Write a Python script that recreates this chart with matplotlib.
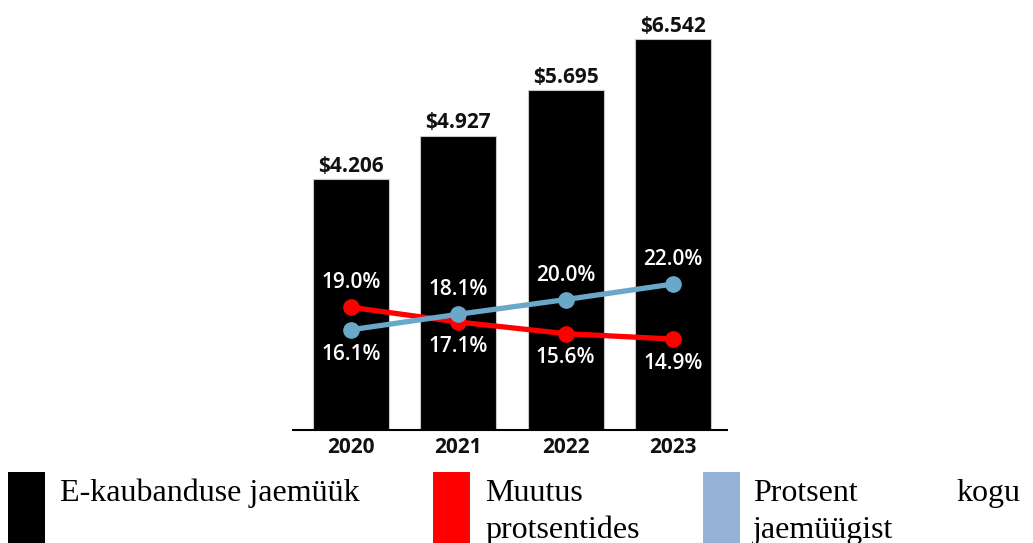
import matplotlib
matplotlib.use("Agg")
import matplotlib.pyplot as plt
from matplotlib.patches import Rectangle

years = ["2020", "2021", "2022", "2023"]
sales = [4.206, 4.927, 5.695, 6.542]
sales_labels = ["$4.206", "$4.927", "$5.695", "$6.542"]
change_pct = [19.0, 17.1, 15.6, 14.9]
share_pct = [16.1, 18.1, 20.0, 22.0]
legend_bar = "E-kaubanduse jaemüük"
legend_change = ["Muutus", "protsentides"]
legend_share = ["Protsent", "kogu", "jaemüügist"]

RED = "#FF0000"
BLUE = "#6AA8C9"
BLUE_LEG = "#95B3D7"

W, H = 1033, 543
fig = plt.figure(figsize=(W / 100, H / 100), dpi=100)

def fx(px):
    return px / W

def fy(py):
    return 1 - py / H

ax = fig.add_axes([fx(293), fy(430), fx(727) - fx(293), fy(5) - fy(430)])
x = list(range(len(years)))
ax.bar(x, sales, width=0.707, color="black", edgecolor="#c8c8c8", linewidth=0.8, zorder=2)
ax.set_xlim(-0.54, 3.503)
ax.set_ylim(0, (430 - 5) / 59.76)
for s in ["top", "right", "left"]:
    ax.spines[s].set_visible(False)
ax.spines["bottom"].set_linewidth(1.5)
ax.set_yticks([])
ax.set_xticks(x)
ax.set_xticklabels(years, fontfamily="Open Sans", fontweight="bold", fontsize=15, color="#111111")
ax.tick_params(axis="x", length=0, pad=5)
for xi, v, lab in zip(x, sales, sales_labels):
    ax.annotate(lab, (xi, v), xytext=(0, 1.5), textcoords="offset points",
                ha="center", va="bottom", fontfamily="Open Sans", fontweight="bold",
                fontsize=15, color="#111111")

ax2 = ax.twinx()
ax2.set_ylim(3.167, 58.01)
ax2.set_yticks([])
for s in ["top", "right", "left", "bottom"]:
    ax2.spines[s].set_visible(False)
ax2.plot(x, change_pct, color=RED, lw=3.8, marker="o", ms=11, zorder=3)
ax2.plot(x, share_pct, color=BLUE, lw=3.8, marker="o", ms=11, zorder=4)
for xi, c, s in zip(x, change_pct, share_pct):
    hi, lo = (c, s) if c > s else (s, c)
    ax2.annotate(f"{hi:.1f}%", (xi, hi), xytext=(0, 17.5), textcoords="offset points",
                 ha="center", va="center", fontfamily="Open Sans", fontweight="semibold",
                 fontsize=15, color="white")
    ax2.annotate(f"{lo:.1f}%", (xi, lo), xytext=(0, -17.5), textcoords="offset points",
                 ha="center", va="center", fontfamily="Open Sans", fontweight="semibold",
                 fontsize=15, color="white")

# legend
for x0, col in [(8, "black"), (433, RED), (703, BLUE_LEG)]:
    fig.patches.append(Rectangle((fx(x0), 0), fx(37), fy(472), transform=fig.transFigure,
                                 facecolor=col, edgecolor="none"))
serif = dict(fontfamily="Liberation Serif", fontsize=23, color="black", va="baseline")
fig.text(fx(60), fy(501), legend_bar, ha="left", **serif)
fig.text(fx(485), fy(501), legend_change[0], ha="left", **serif)
fig.text(fx(485), fy(538), legend_change[1], ha="left", **serif)
fig.text(fx(753), fy(501), legend_share[0], ha="left", **serif)
fig.text(fx(1020), fy(501), legend_share[1], ha="right", **serif)
fig.text(fx(753), fy(538), legend_share[2], ha="left", **serif)

fig.savefig("out.png", dpi=100)
